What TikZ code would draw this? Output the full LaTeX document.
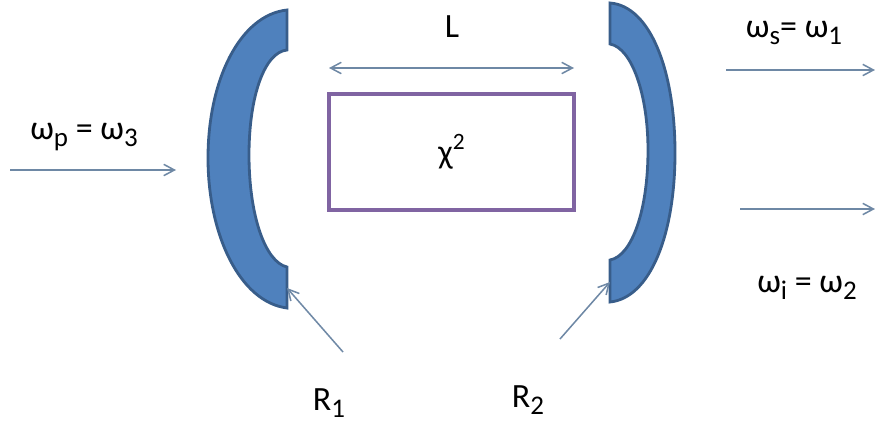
\documentclass[tikz,border=0pt]{standalone}
\usepackage{fontspec}
\usepackage{xcolor}
\usetikzlibrary{arrows.meta, positioning}
\setmainfont{Carlito}
\definecolor{mirrorblue}{RGB}{79,129,189}
\definecolor{mirrorline}{RGB}{56,93,138}
\definecolor{arrowgray}{RGB}{110,136,165}
\definecolor{boxpurple}{RGB}{128,100,162}
\newcommand{\low}[1]{\raisebox{-0.22em}{\fontsize{23}{26}\selectfont #1}}
\newcommand{\high}[1]{\raisebox{0.42em}{\fontsize{20}{24}\selectfont #1}}

\begin{document}
\begin{tikzpicture}[
  x=0.03cm, y=-0.03cm,
  mirror/.style={draw=mirrorline, fill=mirrorblue, line width=2.4pt},
  crystal/.style={rectangle, draw=boxpurple, line width=3pt, minimum width=7.35cm, minimum height=3.48cm, text centered, font=\fontsize{29}{34}\selectfont},
  label/.style={font=\fontsize{29}{34}\selectfont, inner sep=0pt},
  arrow/.style={-{Straight Barb[length=3.2mm, width=3.4mm]}, arrowgray, line width=1.3pt},
  doublearrow/.style={{Straight Barb[length=3.2mm, width=3.4mm]}-{Straight Barb[length=3.2mm, width=3.4mm]}, arrowgray, line width=1.3pt},
]
\useasboundingbox (0,0) rectangle (875,425);

% Mirrors
\draw[mirror] (287,10) .. controls (240,15) and (208,80) .. (208,158)
  .. controls (208,235) and (240,302) .. (287,308) -- (287,267)
  .. controls (265,262) and (249,215) .. (249,155)
  .. controls (249,95) and (265,52) .. (287,50) -- cycle;
\draw[mirror] (610,3) .. controls (650,6) and (675,70) .. (675,153)
  .. controls (675,235) and (650,298) .. (610,302) -- (610,260)
  .. controls (632,256) and (648,210) .. (648,150)
  .. controls (648,95) and (632,48) .. (610,44) -- cycle;

% Crystal
\node[crystal] (crystal) at (451.5,152) {χ\high{2}};

% Length
\coordinate (lstart) at (329,68);
\coordinate (lend) at (574,68);
\draw[doublearrow] (lstart) -- (lend);
\node[label] (length) at (452,27) {L};

% Pump
\coordinate (pumpstart) at (10,170);
\coordinate (pumpend) at (176,170);
\draw[arrow] (pumpstart) -- (pumpend);
\node[label] (pump) at (84,137) {ω\low{p} = ω\low{3}};

% Outputs
\coordinate (signalstart) at (726,70);
\coordinate (signalend) at (875,70);
\draw[arrow] (signalstart) -- (signalend);
\node[label] (signal) at (794,33) {ω\low{s}= ω\low{1}};
\coordinate (idlerstart) at (740,209);
\coordinate (idlerend) at (875,209);
\draw[arrow] (idlerstart) -- (idlerend);
\node[label] (idler) at (807,288) {ω\low{i} = ω\low{2}};

% Radii
\node[label] (rone) at (329,403) {R\low{1}};
\node[label] (rtwo) at (528,400) {R\low{2}};
\coordinate (ronestart) at (343,352);
\coordinate (roneend) at (287,288);
\coordinate (rtwostart) at (560,339);
\coordinate (rtwoend) at (610,282);
\draw[arrow] (ronestart) -- (roneend);
\draw[arrow] (rtwostart) -- (rtwoend);

\end{tikzpicture}
\end{document}
